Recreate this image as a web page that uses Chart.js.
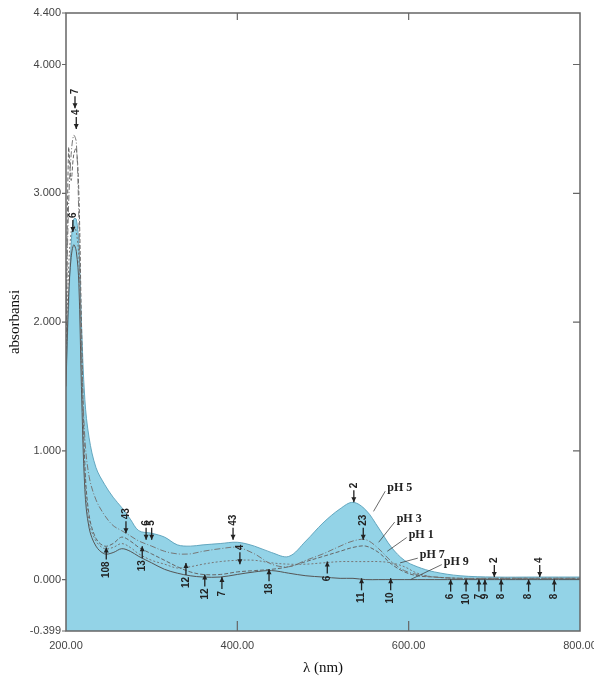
<!DOCTYPE html>
<html>
<head>
<meta charset="utf-8">
<script src="https://cdn.jsdelivr.net/npm/chart.js@4"></script>
<style>
  html, body { margin: 0; padding: 0; background: #fff; }
  #wrap { width: 594px; height: 680px; }
</style>
</head>
<body>
<div id="wrap"><canvas id="spectrum" width="594" height="680"></canvas></div>
<script>
// wavelengths (nm) shared by all curves
const wavelengths = [200, 203, 206, 209, 212, 215, 218, 222, 227, 235, 245, 255, 265, 275, 285, 300, 315, 330, 345, 360, 380, 400, 420, 440, 460, 480, 500, 520, 535, 550, 565, 580, 595, 610, 630, 660, 700, 750, 800];

// absorbance per pH
const absPH5 = [1.60, 2.10, 2.60, 2.80, 2.80, 2.60, 2.00, 1.40, 1.10, 0.87, 0.74, 0.64, 0.56, 0.47, 0.38, 0.36, 0.33, 0.27, 0.26, 0.27, 0.28, 0.29, 0.26, 0.21, 0.18, 0.30, 0.44, 0.55, 0.60, 0.54, 0.40, 0.25, 0.15, 0.10, 0.06, 0.03, 0.02, 0.02, 0.02];
const absPH3 = [2.00, 2.90, 3.30, 3.45, 3.40, 2.80, 1.80, 1.10, 0.80, 0.62, 0.50, 0.42, 0.38, 0.34, 0.30, 0.26, 0.22, 0.20, 0.20, 0.22, 0.24, 0.25, 0.20, 0.12, 0.10, 0.15, 0.20, 0.26, 0.30, 0.31, 0.24, 0.14, 0.07, 0.04, 0.02, 0.01, 0.01, 0.01, 0.01];
const absPH1 = [1.60, 3.35, 3.10, 3.30, 3.35, 3.00, 2.00, 0.90, 0.50, 0.32, 0.26, 0.28, 0.33, 0.30, 0.25, 0.20, 0.15, 0.10, 0.06, 0.04, 0.04, 0.06, 0.07, 0.08, 0.10, 0.14, 0.18, 0.22, 0.25, 0.26, 0.21, 0.12, 0.06, 0.03, 0.02, 0.01, 0.01, 0.01, 0.01];
const absPH7 = [1.70, 2.40, 2.70, 2.75, 2.70, 2.50, 1.70, 0.80, 0.45, 0.30, 0.24, 0.25, 0.28, 0.25, 0.20, 0.15, 0.12, 0.09, 0.10, 0.12, 0.14, 0.15, 0.15, 0.13, 0.12, 0.12, 0.13, 0.14, 0.14, 0.14, 0.14, 0.13, 0.10, 0.05, 0.02, 0.01, 0.01, 0.01, 0.01];
const absPH9 = [1.50, 2.20, 2.50, 2.60, 2.55, 2.30, 1.50, 0.70, 0.40, 0.26, 0.20, 0.21, 0.24, 0.22, 0.18, 0.13, 0.08, 0.05, 0.03, 0.02, 0.02, 0.04, 0.06, 0.07, 0.05, 0.03, 0.02, 0.01, 0.01, 0.00, 0.00, 0.00, 0.00, 0.00, 0.00, 0.00, 0.00, 0.00, 0.00];

// axis ticks
const yTicks = [-0.399, 0, 1, 2, 3, 4, 4.4];
const xTicks = [200, 400, 600, 800];

// curve labels with leader lines (text anchor -> point on curve)
const phNames = ["pH 5", "pH 3", "pH 1", "pH 7", "pH 9"];
const phTextNm = [575, 586, 600, 613, 641];
const phTextAbs = [0.71, 0.47, 0.35, 0.19, 0.14];
const phPointNm = [559, 565, 575, 590, 602];
const phPointAbs = [0.53, 0.29, 0.22, 0.13, 0.00];

// peak-pick arrows printed by the instrument
const markNm = [210.5, 212, 208, 270, 293.5, 300, 395, 403, 536, 547, 700, 753,
                247, 289, 340, 362, 382, 437, 505, 545, 579, 649, 667, 682, 689, 708, 740, 770];
const markAbs = [3.66, 3.50, 2.70, 0.36, 0.31, 0.31, 0.31, 0.12, 0.60, 0.31, 0.02, 0.02,
                 0.25, 0.26, 0.13, 0.04, 0.02, 0.08, 0.14, 0.01, 0.01, 0.00, 0.00, 0.00, 0.00, 0.00, 0.00, 0.00];
const markText = ["7", "4", "6", "43", "6", "5", "43", "4", "2", "23", "2", "4",
                  "108", "13", "12", "12", "7", "18", "6", "11", "10", "6", "10", "7", "9", "8", "8", "8"];
const markDown = [true, true, true, true, true, true, true, true, true, true, true, true,
                  false, false, false, false, false, false, false, false, false, false, false, false, false, false, false, false];

const toPts = arr => arr.map((v, i) => ({ x: wavelengths[i], y: v }));

// frame + tick marks like the instrument plot
const framePlugin = {
  id: "frame",
  afterDraw(chart) {
    const { ctx, chartArea: a, scales } = chart;
    ctx.save();
    ctx.strokeStyle = "#666";
    ctx.lineWidth = 1.5;
    ctx.strokeRect(a.left, a.top, a.right - a.left, a.bottom - a.top);
    ctx.lineWidth = 1.2;
    ctx.beginPath();
    yTicks.forEach(v => {
      const y = scales.y.getPixelForValue(v);
      ctx.moveTo(a.left - 4, y); ctx.lineTo(a.left, y);
      if (v > 0 && v < 4.4) { ctx.moveTo(a.right - 7, y); ctx.lineTo(a.right, y); }
    });
    xTicks.slice(1, -1).forEach(v => {
      const x = scales.x.getPixelForValue(v);
      ctx.moveTo(x, a.bottom); ctx.lineTo(x, a.bottom - 10);
      ctx.moveTo(x, a.top); ctx.lineTo(x, a.top + 7);
    });
    ctx.stroke();
    ctx.restore();
  }
};

// arrows + numbers and the pH labels
const notesPlugin = {
  id: "notes",
  afterDatasetsDraw(chart) {
    const { ctx, scales } = chart;
    ctx.save();
    ctx.strokeStyle = "#222";
    ctx.fillStyle = "#222";
    ctx.lineWidth = 1.3;
    ctx.font = "bold 10px 'Liberation Sans', sans-serif";
    markNm.forEach((nm, i) => {
      const x = scales.x.getPixelForValue(nm);
      const y = scales.y.getPixelForValue(markAbs[i]);
      const d = markDown[i] ? -1 : 1;
      ctx.beginPath();
      ctx.moveTo(x, y + d * 12); ctx.lineTo(x, y);
      ctx.stroke();
      ctx.beginPath();
      ctx.moveTo(x, y); ctx.lineTo(x - 2.5, y + d * 5); ctx.lineTo(x + 2.5, y + d * 5);
      ctx.closePath(); ctx.fill();
      ctx.save();
      ctx.translate(x, y + d * 14);
      ctx.rotate(-Math.PI / 2);
      ctx.textBaseline = "middle";
      ctx.textAlign = markDown[i] ? "left" : "right";
      ctx.fillText(markText[i], 0, 0);
      ctx.restore();
    });

    ctx.font = "bold 12px 'Liberation Serif', serif";
    ctx.textBaseline = "middle";
    ctx.textAlign = "left";
    ctx.lineWidth = 0.8;
    ctx.strokeStyle = "#444";
    phNames.forEach((name, i) => {
      const tx = scales.x.getPixelForValue(phTextNm[i]);
      const ty = scales.y.getPixelForValue(phTextAbs[i]);
      const px = scales.x.getPixelForValue(phPointNm[i]);
      const py = scales.y.getPixelForValue(phPointAbs[i]);
      ctx.beginPath();
      ctx.moveTo(tx - 2, ty + 3); ctx.lineTo(px, py);
      ctx.stroke();
      ctx.fillText(name, tx, ty);
    });
    ctx.restore();
  }
};

const lineBase = { pointRadius: 0, borderWidth: 1, tension: 0.35, fill: false };

new Chart(document.getElementById("spectrum"), {
  type: "line",
  data: {
    datasets: [
      { ...lineBase, label: "pH 5", data: toPts(absPH5), borderColor: "rgba(90,160,185,0.9)", backgroundColor: "#93d3e7", fill: "start", order: 10 },
      { ...lineBase, label: "pH 3", data: toPts(absPH3), borderColor: "#777", borderDash: [6, 2, 1, 2] },
      { ...lineBase, label: "pH 1", data: toPts(absPH1), borderColor: "#666", borderDash: [4, 2] },
      { ...lineBase, label: "pH 7", data: toPts(absPH7), borderColor: "#777", borderDash: [2, 2] },
      { ...lineBase, label: "pH 9", data: toPts(absPH9), borderColor: "#555" }
    ]
  },
  options: {
    responsive: false,
    animation: false,
    layout: { padding: { top: 13, right: 14, left: 0, bottom: 0 } },
    plugins: { legend: { display: false }, tooltip: { enabled: false } },
    scales: {
      x: {
        type: "linear",
        min: 200,
        max: 800,
        afterBuildTicks: s => { s.ticks = xTicks.map(v => ({ value: v })); },
        afterFit: s => { s.height = 49; s.paddingLeft = 0; s.paddingRight = 0; },
        grid: { display: false, drawTicks: false },
        border: { display: false },
        ticks: {
          padding: 8,
          color: "#444",
          font: { family: "'Liberation Sans', sans-serif", size: 11 },
          callback: v => v.toFixed(2)
        },
        title: {
          display: true,
          text: "λ (nm)",
          color: "#111",
          font: { family: "'Liberation Serif', serif", size: 15 },
          padding: { top: 0, bottom: 3 }
        }
      },
      y: {
        min: -0.399,
        max: 4.4,
        afterBuildTicks: s => { s.ticks = yTicks.map(v => ({ value: v })); },
        afterFit: s => { s.width = 66; s.paddingTop = 0; s.paddingBottom = 0; },
        grid: { display: false, drawTicks: false },
        border: { display: false },
        ticks: {
          padding: 5,
          color: "#444",
          font: { family: "'Liberation Sans', sans-serif", size: 11 },
          callback: v => v.toFixed(3)
        },
        title: {
          display: true,
          text: "absorbansi",
          color: "#111",
          font: { family: "'Liberation Serif', serif", size: 15 },
          padding: { top: 6, bottom: 0 }
        }
      }
    }
  },
  plugins: [framePlugin, notesPlugin]
});
</script>
</body>
</html>
